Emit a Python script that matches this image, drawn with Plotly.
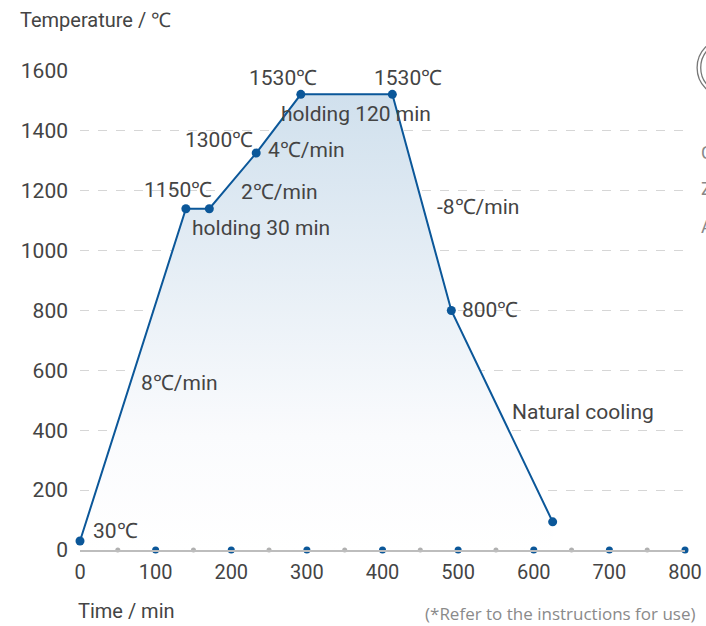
import plotly.graph_objects as go

# Data
time_min = [0, 140, 171, 233, 292, 413, 491, 625]
temperature = [30, 1140, 1140, 1326, 1522, 1522, 800, 94]

major_ticks = [100, 200, 300, 400, 500, 600, 700, 800]
minor_ticks = [50, 150, 250, 350, 450, 550, 650, 750]
x_tick_labels = ["0", "100", "200", "300", "400", "500", "600", "700", "800"]
y_tick_values = [0, 200, 400, 600, 800, 1000, 1200, 1400, 1600]

label_texts = ["30℃", "1150℃", "holding 30 min", "2℃/min", "1300℃", "4℃/min",
               "1530℃", "1530℃", "holding 120 min", "-8℃/min", "800℃",
               "8℃/min", "Natural cooling"]
label_x = [14.5, 82, 145.4, 210.2, 136.2, 245.9, 220.8, 386, 263, 469.4, 502.4, 78, 568.6]
label_y = [62, 1202, 1075, 1195, 1368, 1335, 1575, 1575, 1458, 1145, 802, 558, 462]

LINE = "#0b5799"
TEXT = "#444444"
FONT = "Roboto"

fig = go.Figure()

fig.add_trace(go.Scatter(
    x=time_min, y=temperature, mode="lines+markers",
    line=dict(color=LINE, width=2),
    marker=dict(color=LINE, size=9),
    fill="tozeroy",
    fillgradient=dict(type="vertical", start=0, stop=1530,
                      colorscale=[[0, "rgba(255,255,255,1)"], [0.25, "rgba(250,251,253,1)"], [1, "rgba(208,224,237,1)"]]),
    cliponaxis=False, hoverinfo="skip", showlegend=False,
))

fig.add_trace(go.Scatter(
    x=minor_ticks, y=[0] * len(minor_ticks), mode="markers",
    marker=dict(color="#b0b0b0", size=5), cliponaxis=False,
    hoverinfo="skip", showlegend=False,
))
fig.add_trace(go.Scatter(
    x=major_ticks, y=[0] * len(major_ticks), mode="markers",
    marker=dict(color=LINE, size=7), cliponaxis=False,
    hoverinfo="skip", showlegend=False,
))

annotations = []
for t, xv, yv in zip(label_texts, label_x, label_y):
    annotations.append(dict(x=xv, y=yv, xref="x", yref="y", text=t, showarrow=False,
                            xanchor="left", yanchor="middle",
                            font=dict(family=FONT, size=21, color=TEXT)))

annotations += [
    dict(x=-0.1025, y=1.107, xref="paper", yref="paper", text="Temperature / ℃",
         showarrow=False, xanchor="left", yanchor="middle",
         font=dict(family=FONT, size=20, color=TEXT)),
    dict(x=-0.007, y=-0.128, xref="paper", yref="paper", text="Time / min",
         showarrow=False, xanchor="left", yanchor="middle",
         font=dict(family=FONT, size=20, color=TEXT)),
    dict(x=1.0215, y=-0.132, xref="paper", yref="paper",
         text="(*Refer to the instructions for use)",
         showarrow=False, xanchor="right", yanchor="middle",
         font=dict(family="Open Sans", size=17, color="#8a8a8a")),
]
# partial neighbouring element at right edge
for t, yv in [("C", 0.83), ("Z", 0.755), ("A", 0.675)]:
    annotations.append(dict(x=1.023, y=yv, xref="paper", yref="paper", text=t,
                            showarrow=False, xanchor="left", yanchor="middle",
                            font=dict(family=FONT, size=18, color="#888888")))

shapes = [
    dict(type="circle", xref="paper", yref="paper",
         x0=1.020, x1=1.116, y0=0.946, y1=1.068, line=dict(color="#777777", width=1.3)),
    dict(type="circle", xref="paper", yref="paper",
         x0=1.026, x1=1.110, y0=0.953, y1=1.061, line=dict(color="#777777", width=1.3)),
]

fig.update_layout(
    width=706, height=626,
    margin=dict(l=80, r=21, t=70.5, b=75.5, autoexpand=False),
    paper_bgcolor="white", plot_bgcolor="white",
    font=dict(family=FONT, size=19, color=TEXT),
    annotations=annotations, shapes=shapes,
    xaxis=dict(range=[0, 800], tickvals=[0] + major_ticks, ticktext=x_tick_labels,
               showgrid=False, zeroline=False, showline=True, linecolor="#bdbdbd",
               linewidth=1.5, ticks="", ticklabelstandoff=3, automargin=False,
               tickfont=dict(family=FONT, size=20, color=TEXT)),
    yaxis=dict(range=[0, 1600], tickvals=y_tick_values, showgrid=True,
               gridcolor="#d6d6d6", griddash="dash", gridwidth=1, automargin=False,
               zeroline=False, showline=False, ticks="", ticklabelstandoff=11,
               tickfont=dict(family=FONT, size=21, color=TEXT)),
)

fig.write_html("out.html", config={"displayModeBar": False},
               post_script="document.body.style.margin='0px';document.body.style.overflow='hidden';")
